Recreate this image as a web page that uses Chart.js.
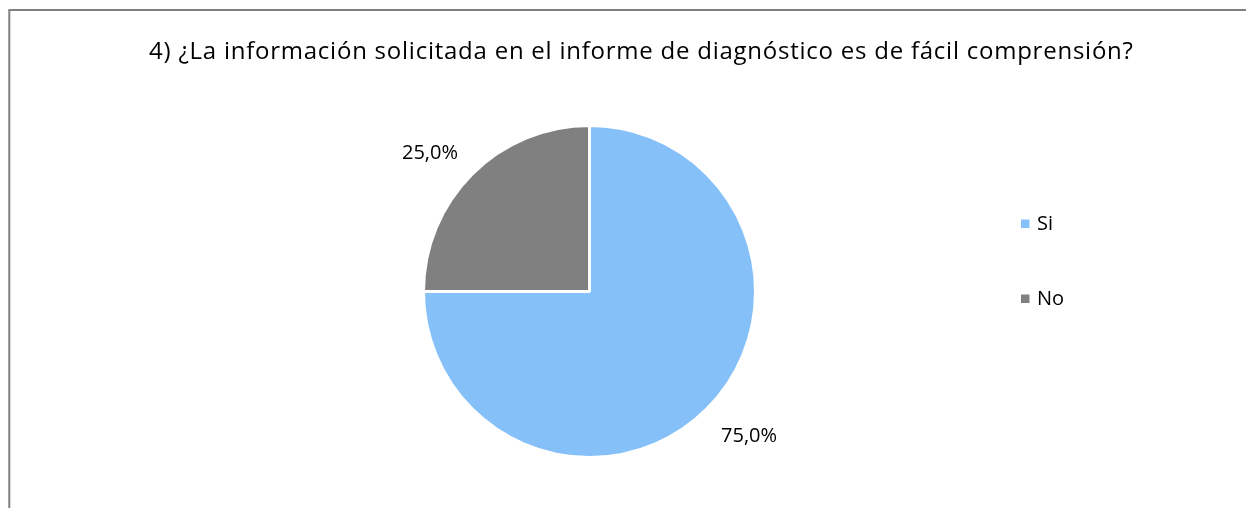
<!DOCTYPE html>
<html>
<head>
<meta charset="utf-8">
<script src="https://cdn.jsdelivr.net/npm/chart.js@4.4.1/dist/chart.umd.min.js"></script>
<style>
html,body{margin:0;padding:0;background:#fff;}
#wrap{position:relative;width:1246px;height:508px;}
</style>
</head>
<body>
<div id="wrap"><canvas id="c" width="1246" height="508"></canvas></div>
<script>
const titleText = "4) ¿La información solicitada en el informe de diagnóstico es de fácil comprensión?";
const categories = ["Si", "No"];
const values = [75.0, 25.0];
const colors = ["#85C0F9", "#808080"];

const FONT = "'Open Sans', 'Liberation Sans', sans-serif";

function fmt(v){ return v.toFixed(1).replace('.', ',') + '%'; }

function fitSpacing(ctx, text, target){
  ctx.letterSpacing = '0px';
  const w = ctx.measureText(text).width;
  const n = [...text].length;
  return Math.max(0, (target - w) / n);
}

const decor = {
  id: 'decor',
  beforeDraw(chart){
    const ctx = chart.ctx;
    ctx.save();
    ctx.fillStyle = '#fff';
    ctx.fillRect(0,0,chart.width,chart.height);
    ctx.strokeStyle = '#808080';
    ctx.lineWidth = 2;
    ctx.beginPath();
    ctx.moveTo(9.3, chart.height);
    ctx.lineTo(9.3, 10);
    ctx.lineTo(chart.width, 10);
    ctx.stroke();
    ctx.restore();
  },
  afterDraw(chart){
    const ctx = chart.ctx;
    ctx.save();
    // title
    ctx.fillStyle = '#000';
    ctx.font = '24px ' + FONT;
    const sp = fitSpacing(ctx, titleText, 985);
    ctx.letterSpacing = sp.toFixed(2) + 'px';
    ctx.textAlign = 'center';
    ctx.textBaseline = 'middle';
    ctx.fillText(titleText, 641 + sp / 2, 52);
    ctx.letterSpacing = '0px';
    // data labels
    const meta = chart.getDatasetMeta(0);
    ctx.font = '20px ' + FONT;
    meta.data.forEach((arc, i) => {
      const p = arc.getProps(['x','y','startAngle','endAngle','outerRadius'], true);
      const mid = (p.startAngle + p.endAngle) / 2;
      const r = p.outerRadius + 20;
      const c = Math.cos(mid), s = Math.sin(mid);
      const px = p.x + r * c, py = p.y + r * s + 3;
      ctx.textAlign = c < 0 ? 'right' : 'left';
      ctx.textBaseline = s < 0 ? 'bottom' : 'top';
      ctx.fillText(fmt(values[i]), px, py);
    });
    // legend
    const lx = 1021, ly0 = 224, gap = 75;
    ctx.textAlign = 'left';
    ctx.textBaseline = 'middle';
    categories.forEach((name, i) => {
      const y = ly0 + i * gap;
      ctx.fillStyle = colors[i];
      ctx.fillRect(lx, y - 4.5, 8.5, 8.5);
      ctx.fillStyle = '#000';
      ctx.fillText(name, lx + 16, y);
    });
    ctx.restore();
  }
};

new Chart(document.getElementById('c'), {
  type: 'pie',
  data: {
    labels: categories,
    datasets: [{
      data: values,
      backgroundColor: colors,
      borderColor: '#ffffff',
      borderWidth: 3
    }]
  },
  options: {
    responsive: false,
    animation: false,
    radius: 166,
    layout: { padding: { left: 0, right: 67, top: 100, bottom: 25 } },
    plugins: {
      legend: { display: false },
      title: { display: false },
      tooltip: { enabled: false }
    }
  },
  plugins: [decor]
});
</script>
</body>
</html>
